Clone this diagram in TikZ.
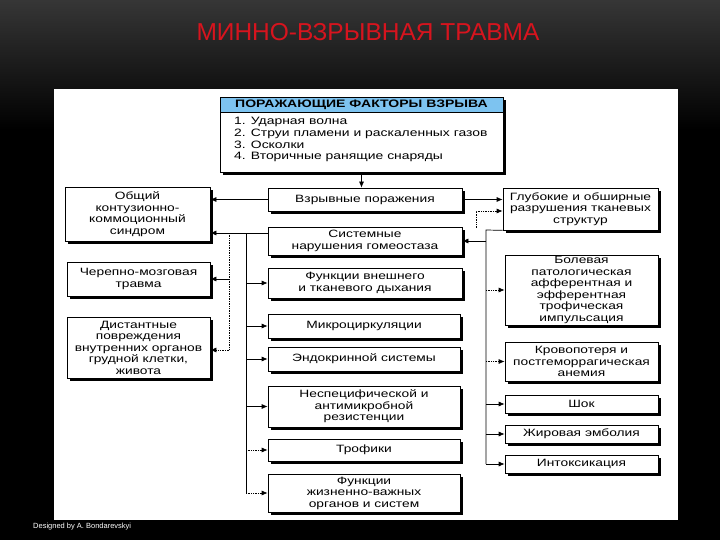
\documentclass[tikz,border=0pt]{standalone}
\usepackage{fontspec}
\setmainfont{Liberation Sans}
\newfontfamily\diag{Liberation Sans}[FakeStretch=1.3]
\usetikzlibrary{arrows.meta,shadows}
\definecolor{hdrblue}{RGB}{125,195,240}
\definecolor{ttlred}{RGB}{215,20,30}
\newcommand\bxx[6]{\node[box, minimum width={#4pt-#2pt}, minimum height={#5pt-#3pt}] (#1) at ({(#2+#4)/2},{(#3+#5)/2}) {#6};}
\begin{document}
\begin{tikzpicture}[x=1pt,y=-1pt,
 box/.style={draw=black, line width=0.7pt, fill=white, inner sep=1pt, align=center,
   font=\diag\fontsize{10.6}{11.5}\selectfont,
   drop shadow={shadow xshift=3pt, shadow yshift=-3pt, fill=black, opacity=1}},
 arr/.style={-{Latex[length=6pt,width=5pt]}, line width=0.7pt},
 ln/.style={line width=0.7pt},
 dln/.style={line width=0.7pt, densely dotted}]
\useasboundingbox (0,0) rectangle (720,540);
\fill[black] (0,0) rectangle (720,540);
\shade[top color={rgb,255:red,54;green,54;blue,54}, bottom color=black] (0,0) rectangle (720,130);
\fill[white] (54,89) rectangle (678,520);

\node[font=\fontsize{24.5}{28}\selectfont, text=ttlred] (title) at (368,32) {МИННО-ВЗРЫВНАЯ ТРАВМА};
\node[font=\fontsize{7.5}{9}\selectfont, text=white, anchor=west, inner sep=0pt] (foot) at (33,527) {Designed by A. Bondarevskyi};

% header
\node[box, minimum width=283pt, minimum height=75pt] (fac) at (361.5,134.5) {};
\node[draw=black, line width=0.7pt, fill=hdrblue, minimum width=283pt, minimum height=15pt, inner sep=0pt,
  font=\diag\bfseries\fontsize{10.8}{12}\selectfont] (band) at (361.5,104.5) {ПОРАЖАЮЩИЕ ФАКТОРЫ ВЗРЫВА};
\node[anchor=north west, align=left, inner sep=0pt, font=\diag\fontsize{10.7}{11.8}\selectfont] (lst) at (234,117)
  {1. Ударная волна\\2. Струи пламени и раскаленных газов\\3. Осколки\\4. Вторичные ранящие снаряды};

% middle column
\bxx{vzr}{268}{188}{462}{211}{Взрывные поражения}
\bxx{sys}{268}{227}{462}{255}{Системные\\нарушения гомеостаза}
\bxx{dyh}{268}{268}{462}{298}{Функции внешнего\\и тканевого дыхания}
\bxx{mic}{268}{314}{460}{338}{Микроциркуляции}
\bxx{endo}{268}{347}{460}{371}{Эндокринной системы}
\bxx{nes}{268}{386}{460}{427}{Неспецифической и\\антимикробной\\резистенции}
\bxx{tro}{268}{439}{460}{461}{Трофики}
\bxx{fun}{268}{474}{460}{512}{Функции\\жизненно-важных\\органов и систем}

% left column
\bxx{obs}{65}{187}{210}{241}{Общий\\контузионно-\\коммоционный\\синдром}
\bxx{che}{67}{262}{210}{296}{Черепно-мозговая\\травма}
\bxx{dis}{67}{317}{210}{378}{Дистантные\\повреждения\\внутренних органов\\грудной клетки,\\живота}

% right column
\bxx{glu}{503}{188}{658}{230}{Глубокие и обширные\\разрушения тканевых\\структур}
\bxx{bol}{505}{255}{658}{325}{Болевая\\патологическая\\афферентная и\\эфферентная\\трофическая\\импульсация}
\bxx{kro}{505}{342}{658}{381}{Кровопотеря и\\постгеморрагическая\\анемия}
\bxx{sho}{505}{395}{658}{413}{Шок}
\bxx{zhi}{505}{425}{658}{443}{Жировая эмболия}
\bxx{int}{505}{455}{658}{473}{Интоксикация}

% connectors
\draw[arr] (fac.south) -- (fac.south |- vzr.north);
\draw[arr] (vzr.west) -- (vzr.west -| obs.east);
\coordinate (j1) at (229,233);
\coordinate (j2) at (246,233);
\coordinate (j1b) at (229,350);
\coordinate (j2b) at (246,493);
\draw[arr] (sys.west |- j1) -- (obs.east |- j1);
\draw[dln] (j1) -- (j1b);
\draw[arr] (j1 |- che.east) -- (che.east);
\draw[arr,densely dotted] (j1b) -- (j1b -| dis.east);
\draw[ln] (j2) -- (j2b);
\foreach \n in {dyh,mic,endo,nes} \draw[arr] (j2 |- \n.west) -- (\n.west);
\draw[arr,densely dotted] (j2 |- tro.west) -- (tro.west);
\draw[arr,densely dotted] (j2b) -- (j2b -| fun.west);

\draw[arr] (vzr.east) -- (vzr.east -| glu.west);
\coordinate (d0) at (476,228);
\coordinate (d1) at (476,211);
\draw[arr,densely dotted] (d0) -- (d1) -- (d1 -| glu.west);
\coordinate (k1) at (486,230);
\coordinate (k2) at (486,464);
\draw[ln] (glu.south west) -- (k1) -- (k2);
\draw[arr] (k1 |- sys.east) -- (sys.east);
\draw[arr,densely dotted] (k1 |- bol.west) -- (bol.west);
\draw[arr,densely dotted] (k1 |- kro.west) -- (kro.west);
\foreach \n in {sho,zhi,int} \draw[arr] (k1 |- \n.west) -- (\n.west);
\end{tikzpicture}
\end{document}
